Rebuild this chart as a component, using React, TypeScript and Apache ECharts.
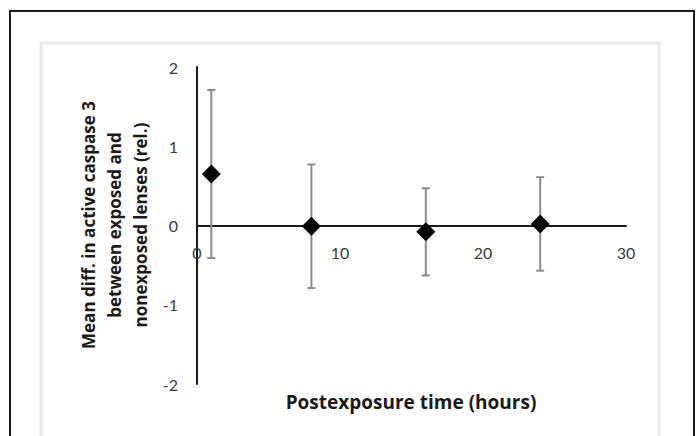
import React, { useEffect, useRef } from "react";
import * as echarts from "echarts";

const times = [1, 8, 16, 24];
const means = [0.65, -0.01, -0.08, 0.02];
const errors = [1.06, 0.78, 0.55, 0.59];
const xTicks = [0, 10, 20, 30];
const yTicks = [-2, -1, 0, 1, 2];
const xTitle = "Postexposure time (hours)";
const yTitle = "Mean diff. in active caspase 3\nbetween exposed and\nnonexposed lenses (rel.)";

const FONT = "Lato, 'Open Sans', sans-serif";
const TITLE_FONT = "'Open Sans', Lato, sans-serif";

export default function App() {
  const ref = useRef<HTMLDivElement>(null);
  useEffect(() => {
    if (!ref.current) return;
    const chart = echarts.init(ref.current, null, { renderer: "svg" });
    const errData = times.map((t, i) => [t, means[i] - errors[i], means[i] + errors[i]]);
    chart.setOption({
      animation: false,
      backgroundColor: "#ffffff",
      grid: { left: 197, right: 74, top: 67, bottom: 52, containLabel: false },
      xAxis: {
        type: "value",
        min: xTicks[0],
        max: xTicks[xTicks.length - 1],
        interval: 10,
        offset: -158,
        splitLine: { show: false },
        axisTick: { show: false },
        axisLine: { onZero: false, lineStyle: { color: "#1a1a1a", width: 2 } },
        axisLabel: { color: "#3a3a3a", fontFamily: FONT, fontSize: 16, margin: 18 },
      },
      yAxis: {
        type: "value",
        min: yTicks[0],
        max: yTicks[yTicks.length - 1],
        interval: 1,
        splitLine: { show: false },
        axisTick: { show: false },
        axisLine: { show: true, onZero: false, lineStyle: { color: "#1a1a1a", width: 2 } },
        axisLabel: { color: "#3a3a3a", fontFamily: FONT, fontSize: 16, margin: 19 },
      },
      graphic: [
        {
          type: "rect",
          shape: { x: 10, y: 11, width: 684, height: 500 },
          style: { fill: "none", stroke: "#1a1a1a", lineWidth: 2 },
          z: 10,
        },
        {
          type: "rect",
          shape: { x: 41, y: 43, width: 618, height: 450 },
          style: { fill: "none", stroke: "#e8e8e8", lineWidth: 3 },
          z: 0,
        },
        {
          type: "text",
          x: 114,
          y: 225,
          rotation: Math.PI / 2,
          style: {
            text: yTitle,
            fontFamily: TITLE_FONT,
            fontWeight: "bold",
            fontSize: 17,
            lineHeight: 26,
            fill: "#1a1a1a",
            align: "center",
            verticalAlign: "middle",
          },
        },
        {
          type: "text",
          x: 411,
          y: 402,
          style: {
            text: xTitle,
            fontFamily: TITLE_FONT,
            fontWeight: "bold",
            fontSize: 19,
            fill: "#1a1a1a",
            align: "center",
            verticalAlign: "middle",
          },
        },
      ],
      series: [
        {
          type: "custom",
          data: errData,
          z: 3,
          renderItem: (params: any, api: any) => {
            const x = api.value(0);
            const lo = api.coord([x, api.value(1)]);
            const hi = api.coord([x, api.value(2)]);
            const w = 4;
            const style = { stroke: "#8c8c8c", lineWidth: 2 };
            return {
              type: "group",
              children: [
                { type: "line", shape: { x1: lo[0], y1: lo[1], x2: hi[0], y2: hi[1] }, style },
                { type: "line", shape: { x1: lo[0] - w, y1: lo[1], x2: lo[0] + w, y2: lo[1] }, style },
                { type: "line", shape: { x1: hi[0] - w, y1: hi[1], x2: hi[0] + w, y2: hi[1] }, style },
              ],
            };
          },
        },
        {
          type: "scatter",
          data: times.map((t, i) => [t, means[i]]),
          symbol: "diamond",
          symbolSize: [19, 19],
          itemStyle: { color: "#000000", opacity: 1 },
          z: 4,
        },
      ],
    });
    return () => chart.dispose();
  }, []);
  return (
    <div
      ref={ref}
      style={{ position: "fixed", left: 0, top: 0, width: 700, height: 436, background: "#fff" }}
    />
  );
}
